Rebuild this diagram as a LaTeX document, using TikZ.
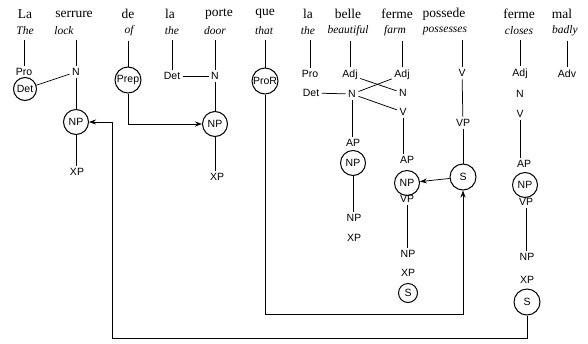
\documentclass[tikz,border=0pt]{standalone}
\usepackage{fontspec}
\setmainfont{Liberation Serif}
\newfontfamily\labfont{Liberation Sans}
\usetikzlibrary{arrows.meta}
\begin{document}
\begin{tikzpicture}[x=1pt,y=-1pt,
  fr/.style={font=\fontsize{13.5}{13.5}\selectfont, inner sep=1pt},
  en/.style={font=\fontsize{11.5}{12}\selectfont\itshape, inner sep=1pt},
  lab/.style={font=\labfont\fontsize{10.5}{11}\selectfont, inner sep=2.5pt},
  circ/.style={circle, draw, line width=1pt, inner sep=0pt, minimum size=25pt, font=\labfont\fontsize{10.5}{11}\selectfont},
  smallcirc/.style={circ, minimum size=19pt},
  ln/.style={line width=0.75pt},
  up/.style={ln, shorten >=4pt},
  arr/.style={ln, -{Stealth[length=7pt,width=5pt]}},
]
\useasboundingbox (0,0) rectangle (588,343);

% words
\node[fr] (f1) at (25,14) {La};
\node[en] (e1) at (25,31) {The};
\node[fr] (f2) at (74,14) {serrure};
\node[en] (e2) at (64,31) {lock};
\node[fr] (f3) at (128,14) {de};
\node[en] (e3) at (129,31) {of};
\node[fr] (f4) at (170,14) {la};
\node[en] (e4) at (172,31) {the};
\node[fr] (f5) at (219,14) {porte};
\node[en] (e5) at (215,31) {door};
\node[fr] (f6) at (265,14) {que};
\node[en] (e6) at (264,31) {that};
\node[fr] (f7) at (308,14) {la};
\node[en] (e7) at (308,31) {the};
\node[fr] (f8) at (348,14) {belle};
\node[en] (e8) at (348,31) {beautiful};
\node[fr] (f9) at (397,14) {ferme};
\node[en] (e9) at (395,31) {farm};
\node[fr] (f10) at (444,14) {possede};
\node[en] (e10) at (445,31) {possesses};
\node[fr] (f11) at (519,14) {ferme};
\node[en] (e11) at (519,31) {closes};
\node[fr] (f12) at (562,14) {mal};
\node[en] (e12) at (565,31) {badly};

% categories
\node[lab] (pro1) at (24,72) {Pro};
\node[circ, minimum size=23pt] (det1) at (25,89) {Det};
\node[lab] (n2) at (76,72) {N};
\node[circ] (np2) at (76,122) {NP};
\node[lab] (xp2) at (77,172) {XP};
\node[circ, minimum size=26pt] (prep3) at (128,80) {Prep};
\node[lab] (det4) at (172,76) {Det};
\node[lab] (n5) at (215,76) {N};
\node[circ] (np5) at (215,124) {NP};
\node[lab] (xp5) at (217,177) {XP};
\node[circ, minimum size=26pt] (pror6) at (265,81) {ProR};
\node[lab] (pro7) at (310,74) {Pro};
\node[lab] (det7) at (311,93) {Det};
\node[lab] (adj8) at (350,75) {Adj};
\node[lab] (n8) at (352,94) {N};
\node[lab] (ap8) at (353,143) {AP};
\node[circ] (np8) at (353,163) {NP};
\node[lab] (npb8) at (354,218) {NP};
\node[lab] (xp8) at (354,238) {XP};
\node[lab] (adj9) at (402,75) {Adj};
\node[lab] (n9) at (403,93) {N};
\node[lab] (v9) at (403,112) {V};
\node[lab] (ap9) at (407,160) {AP};
\node[circ] (np9) at (407,183) {NP};
\node[lab] (vp9) at (407,199) {VP};
\node[lab] (npb9) at (408,254) {NP};
\node[lab] (xp9) at (408,273) {XP};
\node[smallcirc] (s9) at (408,293) {S};
\node[lab] (v10) at (462,73) {V};
\node[lab] (vp10) at (463,123) {VP};
\node[circ, minimum size=26pt] (s10) at (463,177) {S};
\node[lab] (adj11) at (520,74) {Adj};
\node[lab] (n11) at (520,94) {N};
\node[lab] (v11) at (520,114) {V};
\node[lab] (ap11) at (524,164) {AP};
\node[circ] (np11) at (525,185) {NP};
\node[lab] (vp11) at (526,202) {VP};
\node[lab] (npb11) at (527,257) {NP};
\node[lab] (xp11) at (527,280) {XP};
\node[circ, minimum size=26pt] (s11) at (527,302) {S};
\node[lab] (adv12) at (567,74) {Adv};

% lines from the English words
\draw[up] (pro1) -- (pro1 |- e1.south);
\draw[up] (n2) -- (n2 |- e2.south);
\draw[up] (prep3) -- (prep3 |- e3.south);
\draw[up] (det4) -- (det4 |- e4.south);
\draw[up] (n5) -- (n5 |- e5.south);
\draw[up] (pror6) -- (pror6 |- e6.south);
\draw[up] (pro7) -- (pro7 |- e7.south);
\draw[up] (adj8) -- (adj8 |- e8.south);
\draw[up] (adj9) -- (adj9 |- e9.south);
\draw[up] (v10) -- (v10 |- e10.south);
\draw[up] (adj11) -- (adj11 |- e11.south);
\draw[up] (adv12) -- (adv12 |- e12.south);

% tree lines
\draw[ln] (n2) -- (det1);
\draw[ln] (n2) -- (np2);
\draw[ln] (np2) -- (np2 |- xp2.north);
\draw[ln] (det4) -- (n5);
\draw[ln] (n5) -- (np5);
\draw[ln] (np5) -- (np5 |- xp5.north);
\draw[ln] (det7) -- (n8);
\draw[ln] (n8) -- (n8 |- ap8.north);
\draw[ln] (np8) -- (np8 |- npb8.north);
\draw[ln] (adj8) -- (n9);
\draw[ln] (n8) -- (adj9);
\draw[ln] (n8) -- (v9);
\draw[ln] (v9) -- (v9 |- ap9.north);
\draw[ln] (vp9) -- (vp9 |- npb9.north);
\draw[ln] (v10) -- (vp10);
\draw[ln] (vp10) -- (s10);
\draw[ln] (v11) -- (v11 |- ap11.north);
\draw[ln] (vp11) -- (vp11 |- npb11.north);

% arrows
\coordinate (c1) at (112,338);
\coordinate (c2) at (265,314);
\draw[arr] (prep3) |- (np5);
\draw[arr] (s11) |- (c1) |- (np2);
\draw[arr] (pror6) -- (c2) -| (s10);
\draw[arr] (s10) -- (np9);
\end{tikzpicture}
\end{document}
